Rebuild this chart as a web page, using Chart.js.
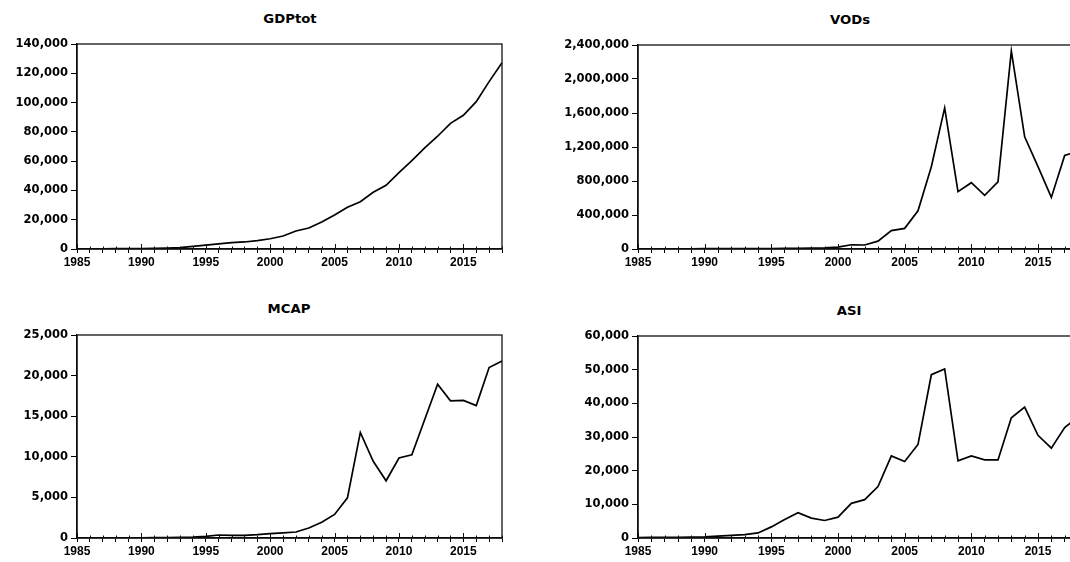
<!DOCTYPE html>
<html>
<head>
<meta charset="utf-8">
<script src="https://cdn.jsdelivr.net/npm/chart.js@4.4.1/dist/chart.umd.min.js"></script>
<style>
  html, body { margin:0; padding:0; background:#fff; width:1070px; height:562px; overflow:hidden; }
  .wrap { position:absolute; }
  canvas { display:block; }
  .ttl { position:absolute; width:200px; text-align:center; font-family:"DejaVu Sans", sans-serif; font-weight:bold;
         font-size:12.5px; line-height:16px; color:#000; transform:scaleX(1.06); }
</style>
</head>
<body>
<div class="ttl" style="left:190px; top:11px;">GDPtot</div>
<div class="ttl" style="left:750px; top:12px;">VODs</div>
<div class="ttl" style="left:189px; top:301px;">MCAP</div>
<div class="ttl" style="left:749px; top:303px;">ASI</div>

<div class="wrap" style="left:0px; top:30px;"><canvas id="c1" width="515" height="250"></canvas></div>
<div class="wrap" style="left:560px; top:30px;"><canvas id="c2" width="530" height="250"></canvas></div>
<div class="wrap" style="left:0px; top:320px;"><canvas id="c3" width="515" height="242"></canvas></div>
<div class="wrap" style="left:560px; top:320px;"><canvas id="c4" width="530" height="242"></canvas></div>

<script>
const years = [1985,1986,1987,1988,1989,1990,1991,1992,1993,1994,1995,1996,1997,1998,1999,2000,
               2001,2002,2003,2004,2005,2006,2007,2008,2009,2010,2011,2012,2013,2014,2015,2016,2017,2018];

const gdpTot = [100,110,150,200,300,350,450,700,1000,1800,2700,3500,4300,4800,5700,7000,
                8900,12300,14300,18400,23200,28500,32300,38700,43500,52100,60300,69000,77000,85800,91300,100600,114300,127200];

const vods = [2000,2000,2500,3000,3000,3500,4000,4500,5000,5500,6000,8000,9000,10000,14000,22000,
              50000,47000,92000,216000,243000,450000,968000,1660000,675000,780000,632000,790000,2330000,1320000,968000,607000,1100000,1150000];

const mcap = [10,12,15,20,25,30,40,50,70,100,200,370,330,330,410,530,
              620,740,1230,1930,2900,4950,13000,9450,7050,9850,10250,14600,18950,16900,16950,16300,21000,21800];

const asi = [120,160,190,230,300,350,550,800,1000,1500,3300,5500,7500,5900,5200,6200,
             10300,11400,15300,24400,22700,27800,48500,50200,22900,24400,23200,23200,35700,38900,30500,26700,32800,36000];

const gdpTicks  = { max: 140000,  step: 20000 };
const vodsTicks = { max: 2400000, step: 400000 };
const mcapTicks = { max: 25000,   step: 5000 };
const asiTicks  = { max: 60000,   step: 10000 };

const frameAndInnerTicks = {
  id: 'frameAndInnerTicks',
  afterDraw(chart) {
    const ctx = chart.ctx, a = chart.chartArea, xs = chart.scales.x;
    ctx.save();
    ctx.strokeStyle = '#111';
    ctx.lineWidth = 1.3;
    ctx.strokeRect(a.left, a.top, a.right - a.left, a.bottom - a.top);
    ctx.lineWidth = 1;
    xs.ticks.forEach((t, i) => {
      const x = Math.round(xs.getPixelForTick(i)) + 0.5;
      const len = (years[i] % 5 === 0) ? 5 : 2.5;
      ctx.beginPath();
      ctx.moveTo(x, a.bottom);
      ctx.lineTo(x, a.bottom - len);
      ctx.stroke();
    });
    ctx.restore();
  }
};

function makeChart(id, values, yt, padTop, padRight, yWidth, xHeight) {
  return new Chart(document.getElementById(id), {
    type: 'line',
    data: {
      labels: years,
      datasets: [{
        data: values,
        borderColor: '#000',
        borderWidth: 1.7,
        pointRadius: 0,
        tension: 0,
        fill: false
      }]
    },
    options: {
      responsive: false,
      animation: false,
      devicePixelRatio: 1,
      layout: { padding: { top: padTop, right: padRight, left: 0, bottom: 0 } },
      plugins: { legend: { display: false }, tooltip: { enabled: false }, title: { display: false } },
      scales: {
        x: {
          type: 'category',
          offset: false,
          border: { display: true, color: '#000', width: 1.4 },
          grid: { drawOnChartArea: false, drawTicks: true, tickLength: 4, tickColor: '#000', tickWidth: 1 },
          ticks: {
            autoSkip: false, maxRotation: 0, minRotation: 0, padding: 2,
            color: '#000',
            font: { family: '"Liberation Sans", Arial, sans-serif', size: 12, weight: 'bold' },
            callback: function(v, i) { return years[i] % 5 === 0 ? String(years[i]) : ''; }
          },
          afterFit: s => { s.height = xHeight; }
        },
        y: {
          type: 'linear',
          min: 0, max: yt.max,
          border: { display: true, color: '#000', width: 1.4 },
          grid: { drawOnChartArea: false, drawTicks: true, tickLength: 6, tickColor: '#000', tickWidth: 1 },
          ticks: {
            stepSize: yt.step, padding: 3, color: '#000',
            font: { family: '"DejaVu Sans", sans-serif', size: 11.5, weight: 'bold' },
            callback: v => Number(v).toLocaleString('en-US')
          },
          afterFit: s => { s.width = yWidth; }
        }
      }
    },
    plugins: [frameAndInnerTicks]
  });
}

makeChart('c1', gdpTot, gdpTicks, 14, 13, 77, 31);
makeChart('c2', vods, vodsTicks, 15, 12, 78, 31);
makeChart('c3', mcap, mcapTicks, 15, 13, 77, 24);
makeChart('c4', asi, asiTicks, 16, 12, 78, 24);
</script>
</body>
</html>
